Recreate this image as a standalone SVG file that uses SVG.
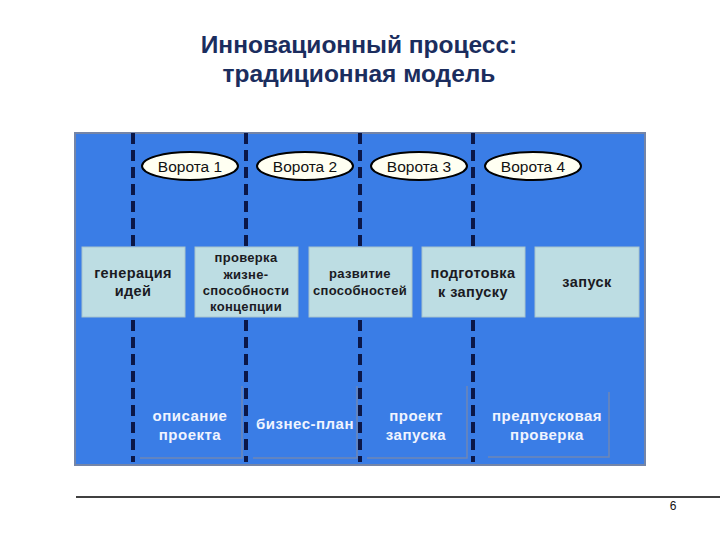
<svg xmlns="http://www.w3.org/2000/svg" width="720" height="540" viewBox="0 0 720 540">
<style>
.title{font-family:"Liberation Sans",Arial,sans-serif;font-weight:bold;font-size:24.5px;fill:#1b2d5e;text-anchor:middle}
.gate{font-family:"Liberation Sans",Arial,sans-serif;font-size:15.5px;fill:#111;text-anchor:middle}
.box{fill:#bddde3;stroke:#a8c4cc;stroke-width:1}
.bt{font-family:"Liberation Sans",Arial,sans-serif;font-weight:bold;font-size:14.5px;letter-spacing:0.4px;fill:#1a1a22;text-anchor:middle}
.bt2{font-family:"Liberation Sans",Arial,sans-serif;font-weight:bold;font-size:13px;letter-spacing:0.3px;fill:#1a1a22;text-anchor:middle}
.wt{font-family:"Liberation Sans",Arial,sans-serif;font-weight:bold;font-size:15px;letter-spacing:0.5px;fill:#f0f4ff;text-anchor:middle}
.ell{fill:#fffff2;stroke:#000;stroke-width:2}
.dash{stroke:#0b1748;stroke-width:4;stroke-dasharray:11 6;fill:none}
.sh{stroke:#7c8aa8;stroke-width:1.5;fill:none;opacity:0.8}
</style>
<rect width="720" height="540" fill="#ffffff"/>
<text class="title" x="359" y="53">Инновационный процесс:</text>
<text class="title" x="359" y="82">традиционная модель</text>
<rect x="75" y="133" width="570" height="332" fill="#3a7de6" stroke="#7485a8" stroke-width="2"/>
<g id="connectors">
<line class="dash" x1="133" y1="133" x2="133" y2="462"/>
<line class="dash" x1="246" y1="133" x2="246" y2="462"/>
<line class="dash" x1="360" y1="133" x2="360" y2="462"/>
<line class="dash" x1="473" y1="133" x2="473" y2="462"/>
</g>
<g id="gate1"><ellipse class="ell" cx="190" cy="166" rx="48" ry="14"/><text class="gate" x="190" y="171.5">Ворота 1</text></g>
<g id="gate2"><ellipse class="ell" cx="305" cy="166" rx="48" ry="14"/><text class="gate" x="305" y="171.5">Ворота 2</text></g>
<g id="gate3"><ellipse class="ell" cx="419" cy="166" rx="48" ry="14"/><text class="gate" x="419" y="171.5">Ворота 3</text></g>
<g id="gate4"><ellipse class="ell" cx="533" cy="166" rx="48" ry="14"/><text class="gate" x="533" y="171.5">Ворота 4</text></g>
<g id="stage1"><rect class="box" x="82" y="247" width="103" height="70"/><text class="bt" x="133" y="278">генерация</text><text class="bt" x="133" y="296">идей</text></g>
<g id="stage2"><rect class="box" x="195" y="247" width="103" height="70"/><text class="bt2" x="246" y="262">проверка</text><text class="bt2" x="246" y="279">жизне-</text><text class="bt2" x="246" y="295">способности</text><text class="bt2" x="246" y="311">концепции</text></g>
<g id="stage3"><rect class="box" x="309" y="247" width="103" height="70"/><text class="bt2" x="360" y="278">развитие</text><text class="bt2" x="360" y="295">способностей</text></g>
<g id="stage4"><rect class="box" x="422" y="247" width="103" height="70"/><text class="bt" x="473" y="278">подготовка</text><text class="bt" x="473" y="297">к запуску</text></g>
<g id="stage5"><rect class="box" x="535" y="247" width="104" height="70"/><text class="bt" x="587" y="287">запуск</text></g>
<g id="out1"><polyline class="sh" points="140,458 242,458 242,386"/><text class="wt" x="190" y="421">описание</text><text class="wt" x="190" y="440">проекта</text></g>
<g id="out2"><polyline class="sh" points="253,458 357,458 357,386"/><text class="wt" x="305" y="429">бизнес-план</text></g>
<g id="out3"><polyline class="sh" points="367,458 467,458 467,386"/><text class="wt" x="416" y="421">проект</text><text class="wt" x="416" y="440">запуска</text></g>
<g id="out4"><polyline class="sh" points="488,457 609,457 609,392"/><text class="wt" x="547" y="421">предпусковая</text><text class="wt" x="547" y="440">проверка</text></g>
<line x1="76" y1="497" x2="720" y2="497" stroke="#000" stroke-width="1.5"/>
<text x="673" y="510" font-family="Liberation Sans,Arial,sans-serif" font-size="12" fill="#111" text-anchor="middle">6</text>
</svg>
